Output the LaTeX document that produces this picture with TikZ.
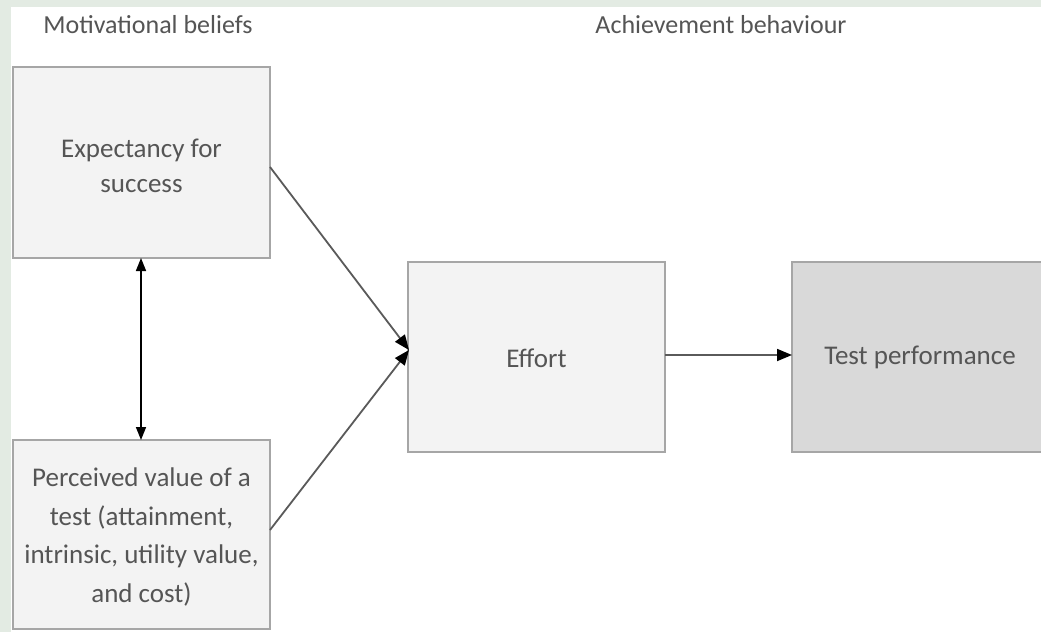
\documentclass[tikz,border=0pt]{standalone}
\usepackage{fontspec}
\setmainfont{Carlito}
\usetikzlibrary{arrows.meta}
\definecolor{framegreen}{HTML}{E3EBE3}
\definecolor{boxline}{HTML}{A6A6A6}
\definecolor{lightfill}{HTML}{F3F3F3}
\definecolor{darkfill}{HTML}{D9D9D9}
\definecolor{txt}{HTML}{555555}
\definecolor{conn}{HTML}{5A5A5A}
\begin{document}
\begin{tikzpicture}[x=1pt,y=-1pt,
  box/.style={draw=boxline,line width=2.4pt,fill=lightfill},
  label/.style={text=txt,align=center,font=\fontsize{27}{35}\selectfont},
  title/.style={text=txt,font=\fontsize{26}{32}\selectfont},
  link/.style={draw=conn,line width=1.8pt,-{Triangle[length=15pt,width=12pt,color=black]}},
  twoway/.style={draw=black,line width=1.6pt,{Triangle[length=13pt,width=10pt]}-{Triangle[length=13pt,width=10pt]}}]
\useasboundingbox (0,0) rectangle (1041,632);
\clip (0,0) rectangle (1041,632);
\fill[white] (0,0) rectangle (1041,632);
\fill[framegreen] (0,0) rectangle (1041,7);
\fill[framegreen] (0,0) rectangle (11,632);

% column headings
\node[title] (tmot) at (148,25) {Motivational beliefs};
\node[title] (tach) at (721,25) {Achievement behaviour};

% boxes
\draw[box] (13,67) rectangle (270,258);
\node[label] (exp) at (141.5,166) {Expectancy for\\success};

\draw[box] (13,440) rectangle (270,629);
\node[label,font=\fontsize{27}{38.5}\selectfont] (per) at (141.5,537) {Perceived value of a\\test (attainment,\\intrinsic, utility value,\\and cost)};

\draw[box] (408,262) rectangle (665,452);
\node[label] (eff) at (536.5,358) {Effort};

\draw[box,fill=darkfill] (792,262) rectangle (1050,452);
\node[label] (tp) at (920,357) {Test performance};

% connector end points on the box edges
\coordinate (expR) at (270,167);
\coordinate (perR) at (270,530);
\coordinate (effIn) at (409,350);
\coordinate (effOut) at (665,355);
\coordinate (tpIn) at (792,355);
\coordinate (expB) at (141,258);
\coordinate (perT) at (141,440);

\draw[link] (expR) -- (effIn);
\draw[link] (perR) -- (effIn);
\draw[link] (effOut) -- (tpIn);
\draw[twoway] (expB) -- (perT);
\end{tikzpicture}
\end{document}
